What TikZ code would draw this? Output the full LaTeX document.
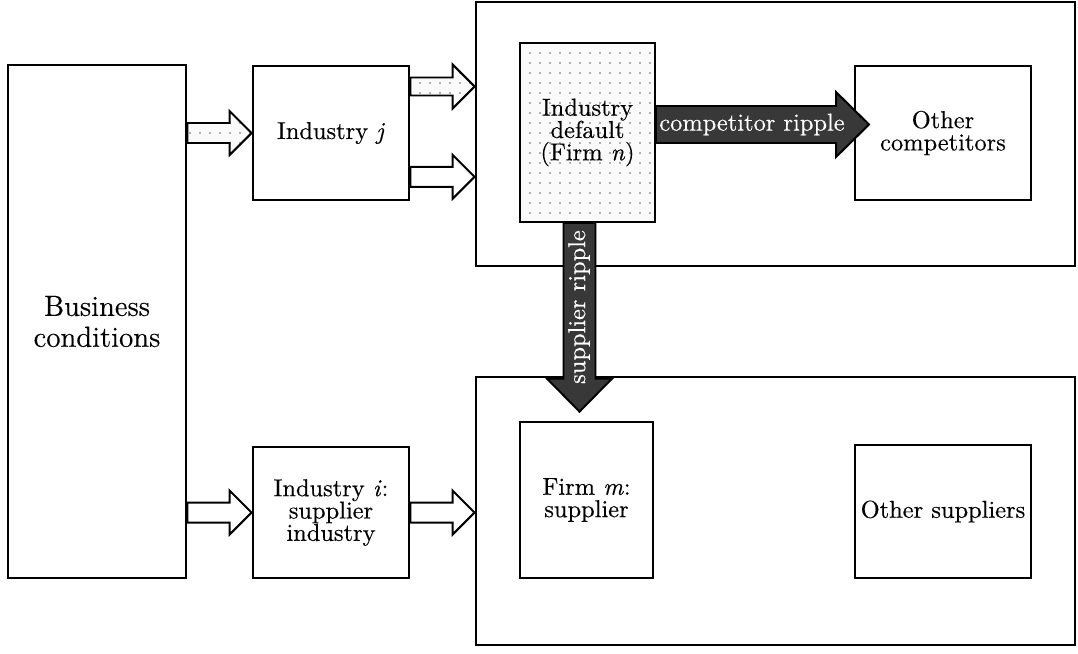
\documentclass[tikz,border=0pt]{standalone}
\usepackage{fontspec}
\setmainfont{Latin Modern Roman}[FakeBold=0.4]
\usepackage{tikz}
\usetikzlibrary{calc,patterns.meta}

\newcommand\px{0.43pt}

\tikzdeclarepattern{
  name=sparsedots,
  type=uncolored,
  bounding box={(-2.15pt,-2.15pt) and (2.15pt,2.15pt)},
  tile size={(4.3pt,4.3pt)},
  code={\fill (0pt,0pt) circle [radius=0.4pt];}
}

% block arrow pointing right: style, tail, tip, shaft half, head half, head length (px)
\newcommand\hblock[6]{%
  \path[#1] let \p1=#2, \p2=#3 in
    (\x1,{\y1+#4*\px}) -- ({\x2-#6*\px},{\y1+#4*\px}) -- ({\x2-#6*\px},{\y1+#5*\px})
    -- (\x2,\y1) -- ({\x2-#6*\px},{\y1-#5*\px}) -- ({\x2-#6*\px},{\y1-#4*\px})
    -- (\x1,{\y1-#4*\px}) -- cycle;}
% block arrow pointing down
\newcommand\vblock[6]{%
  \path[#1] let \p1=#2, \p2=#3 in
    ({\x1-#4*\px},\y1) -- ({\x1-#4*\px},{\y2+#6*\px}) -- ({\x1-#5*\px},{\y2+#6*\px})
    -- (\x1,\y2) -- ({\x1+#5*\px},{\y2+#6*\px}) -- ({\x1+#4*\px},{\y2+#6*\px})
    -- ({\x1+#4*\px},\y1) -- cycle;}

\begin{document}
\begin{tikzpicture}[
    x=0.43pt, y=-0.43pt,
    font=\fontsize{10.5}{9.6}\selectfont,
    size/.style 2 args={minimum width=#1*\px, minimum height=#2*\px},
    thickbox/.style={draw, line width=1.2pt, align=center, inner sep=0pt},
    thinbox/.style={draw, line width=0.85pt, align=center, inner sep=0pt},
    speckled/.style={preaction={fill=gray!4}, pattern=sparsedots, pattern color=black!60},
    hollow/.style={draw, fill=white, line width=0.85pt, line join=miter},
    ripple/.style={draw, fill=black!78, line width=0.85pt, line join=miter},
    rippletext/.style={text=white, inner sep=0pt}
]
\useasboundingbox (0,0) rectangle (1078,653);

\node[thickbox, size={178}{513}, font=\fontsize{12.5}{13.3}\selectfont] (biz) at (97,321.5) {Business\\conditions};
\node[thickbox, size={156}{134}] (indj) at (331,133) {Industry \textit{j}};
\node[thickbox, size={156}{131}] (indi) at (331,512.5) {Industry \textit{i}:\\supplier\\industry};

\node[thickbox, size={599}{264}] (compzone) at (775.5,134) {};
\node[thickbox, size={599}{268}] (supzone) at (775.5,511) {};

\node[thinbox, speckled, size={135}{179}] (dflt) at (587.5,132.5) {Industry\\default\\(Firm \textit{n})};
\node[thinbox, size={176}{134}] (othcomp) at (943,133) {Other\\competitors};
\node[thinbox, size={133}{156}] (firmm) at (586.5,500) {Firm \textit{m}:\\supplier};
\node[thinbox, size={176}{133}] (othsup) at (943,511.5) {Other suppliers};

% industry shocks
\hblock{hollow, speckled}{(biz.east |- indj)}{(indj.west)}{10}{22}{22}
\hblock{hollow, speckled}{($(indj.north east)!0.16!(indj.south east)$)}{(compzone.west)}{9}{22}{22}
\hblock{hollow}{($(indj.north east)!0.82!(indj.south east)$)}{(compzone.west)}{10}{22}{22}
\hblock{hollow}{(biz.east |- indi)}{(indi.west)}{10}{22}{22}
\hblock{hollow}{(indi.east)}{(supzone.west)}{10}{22}{22}

% ripples
\hblock{ripple}{([yshift=8*\px]dflt.east)}{([xshift=15*\px]othcomp.west)}{18.5}{32.5}{33}
\vblock{ripple}{([xshift=-8*\px]dflt.south)}{([yshift=-36*\px]supzone.north)}{16}{32.5}{33}

\node[rippletext] (complbl) at (752,124.5) {competitor ripple};
\node[rippletext, rotate=90] (suplbl) at (579,307) {supplier ripple};
\end{tikzpicture}
\end{document}
